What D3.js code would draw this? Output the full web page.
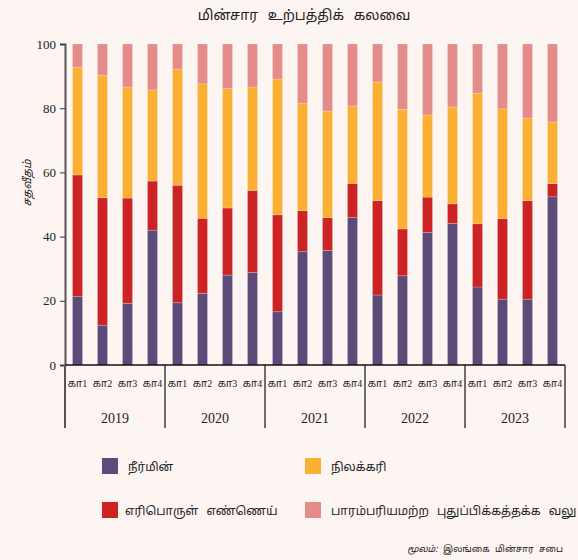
<!DOCTYPE html>
<html lang="ta">
<head>
<meta charset="utf-8">
<title>மின்சார உற்பத்திக் கலவை</title>
<script src="https://d3js.org/d3.v7.min.js"></script>
<style>
  body { margin: 0; background: #fdf5f2; }
  svg { display: block; }
  .axis text { font-family: "Liberation Serif", serif; font-size: 13px; fill: #222; }
  .tam { font-family: "Noto Sans Tamil", "Lohit Tamil", "Noto Sans", sans-serif; fill: #222; }
  .qlab { font-family: "Liberation Serif", "Noto Sans Tamil", serif; fill: #222; }
</style>
</head>
<body>
<div id="chart"></div>
<script>
// data
var years = ["2019", "2020", "2021", "2022", "2023"];
var quarters = ["கா1", "கா2", "கா3", "கா4"];
var seriesNames = ["நீர்மின்", "எரிபொருள் எண்ணெய்", "நிலக்கரி", "பாரம்பரியமற்ற புதுப்பிக்கத்தக்க வலு"];
var hydro = [21.3, 12.4, 19.2, 42.0, 19.4, 22.3, 28.0, 28.8, 16.6, 35.3, 35.7, 46.0, 21.8, 27.8, 41.3, 44.1, 24.3, 20.5, 20.5, 52.4];
var fuelOil = [37.9, 39.7, 32.8, 15.3, 36.6, 23.4, 20.9, 25.6, 30.2, 12.8, 10.2, 10.6, 29.4, 14.6, 11.0, 6.1, 19.7, 25.1, 30.7, 4.1];
var coal = [33.6, 38.2, 34.6, 28.4, 36.2, 41.9, 37.2, 32.2, 42.3, 33.5, 33.2, 24.1, 37.0, 37.2, 25.6, 30.2, 40.7, 34.2, 25.7, 19.2];
var ncre = [7.2, 9.7, 13.4, 14.3, 7.8, 12.4, 13.9, 13.4, 10.9, 18.4, 20.9, 19.3, 11.8, 20.4, 22.1, 19.6, 15.3, 20.2, 23.1, 24.3];
var yTicks = [0, 20, 40, 60, 80, 100];

var colors = ["#5c4a78", "#cc2424", "#fbb034", "#e48c8a"];

var width = 578, height = 560;
var plotLeft = 65, plotRight = 565, plotTop = 44, plotBottom = 365;

var svg = d3.select("#chart").append("svg")
  .attr("width", width)
  .attr("height", height);

// build rows for the stack
var keys = ["hydro", "fuelOil", "coal", "ncre"];
var rows = [];
years.forEach(function(yr, i) {
  quarters.forEach(function(q, j) {
    var k = i * 4 + j;
    rows.push({ id: yr + "-" + q, year: yr, q: q,
      hydro: hydro[k], fuelOil: fuelOil[k], coal: coal[k], ncre: ncre[k] });
  });
});

var x = d3.scaleBand()
  .domain(rows.map(function(d) { return d.id; }))
  .range([plotLeft, plotRight])
  .paddingInner(0.6)
  .paddingOuter(0.3);

var xYear = d3.scaleBand().domain(years).range([plotLeft, plotRight]);

var y = d3.scaleLinear().domain([0, 100]).range([plotBottom, plotTop]);

var layers = d3.stack().keys(keys)(rows);

// title
svg.append("text")
  .attr("class", "tam")
  .attr("x", 304).attr("y", 20)
  .attr("text-anchor", "middle")
  .style("font-size", "14px")
  .style("word-spacing", "6px")
  .text("மின்சார உற்பத்திக் கலவை");

// bars
svg.selectAll("g.layer")
  .data(layers)
  .enter().append("g")
  .attr("class", "layer")
  .attr("fill", function(d, i) { return colors[i]; })
  .selectAll("rect")
  .data(function(d) { return d; })
  .enter().append("rect")
  .attr("x", function(d) { return x(d.data.id); })
  .attr("width", x.bandwidth())
  .attr("y", function(d) { return y(d[1]); })
  .attr("height", function(d) { return y(d[0]) - y(d[1]); })
  .attr("stroke", "#fff")
  .attr("stroke-opacity", 0.25)
  .attr("stroke-width", 0.8);

// y axis
var yAxis = svg.append("g")
  .attr("class", "axis")
  .attr("transform", "translate(" + plotLeft + ",0)")
  .call(d3.axisLeft(y).tickValues(yTicks).tickSize(5).tickPadding(4));
yAxis.select(".domain").attr("stroke", "#555").attr("stroke-width", 2);
yAxis.selectAll(".tick line").attr("stroke", "#333");

svg.append("text")
  .attr("class", "tam")
  .attr("transform", "translate(31,183) rotate(-90)")
  .attr("text-anchor", "middle")
  .style("font-size", "11px")
  .style("font-style", "italic")
  .text("சதவீதம்");

// x axis line
svg.append("line")
  .attr("x1", plotLeft).attr("x2", plotRight)
  .attr("y1", plotBottom).attr("y2", plotBottom)
  .attr("stroke", "#111").attr("stroke-width", 1.5);

// year group dividers
var dividers = years.map(function(yr) { return xYear(yr); }).concat([plotRight]);
svg.selectAll("line.div")
  .data(dividers)
  .enter().append("line")
  .attr("class", "div")
  .attr("x1", function(d) { return d; }).attr("x2", function(d) { return d; })
  .attr("y1", plotBottom).attr("y2", 428)
  .attr("stroke", function(d, i) { return i === 0 ? "#555" : "#111"; })
  .attr("stroke-width", function(d, i) { return i === 0 ? 2 : 1.2; });

// quarter labels
svg.selectAll("text.q")
  .data(rows)
  .enter().append("text")
  .attr("class", "q qlab")
  .attr("x", function(d) { return x(d.id) + x.bandwidth() / 2; })
  .attr("y", 387)
  .attr("text-anchor", "middle")
  .style("font-size", "10px")
  .text(function(d) { return d.q; });

// year labels
svg.selectAll("text.yr")
  .data(years)
  .enter().append("text")
  .attr("class", "yr")
  .attr("x", function(d) { return xYear(d) + xYear.bandwidth() / 2; })
  .attr("y", 423)
  .attr("text-anchor", "middle")
  .style("font-family", "'Liberation Serif', serif")
  .style("font-size", "14px")
  .style("fill", "#222")
  .text(function(d) { return d; });

// legend
var legendPos = [[102, 458], [102, 502], [305, 458], [305, 502]];
var legend = svg.selectAll("g.leg")
  .data(seriesNames)
  .enter().append("g")
  .attr("class", "leg")
  .attr("transform", function(d, i) { return "translate(" + legendPos[i][0] + "," + legendPos[i][1] + ")"; });
legend.append("rect")
  .attr("width", 16).attr("height", 16)
  .attr("fill", function(d, i) { return colors[i]; });
legend.append("text")
  .attr("class", "tam")
  .attr("x", function(d, i) { return i === 1 ? 23 : 26; })
  .attr("y", 13)
  .style("font-size", "12px")
  .style("word-spacing", "5px")
  .text(function(d) { return d; });

// source
var src = svg.append("text")
  .attr("class", "tam")
  .attr("x", 563).attr("y", 552)
  .attr("text-anchor", "end")
  .style("font-size", "9px")
  .style("word-spacing", "3px");
src.append("tspan").style("font-style", "italic").text("மூலம்: ");
src.append("tspan").text("இலங்கை மின்சார சபை");
</script>
</body>
</html>
